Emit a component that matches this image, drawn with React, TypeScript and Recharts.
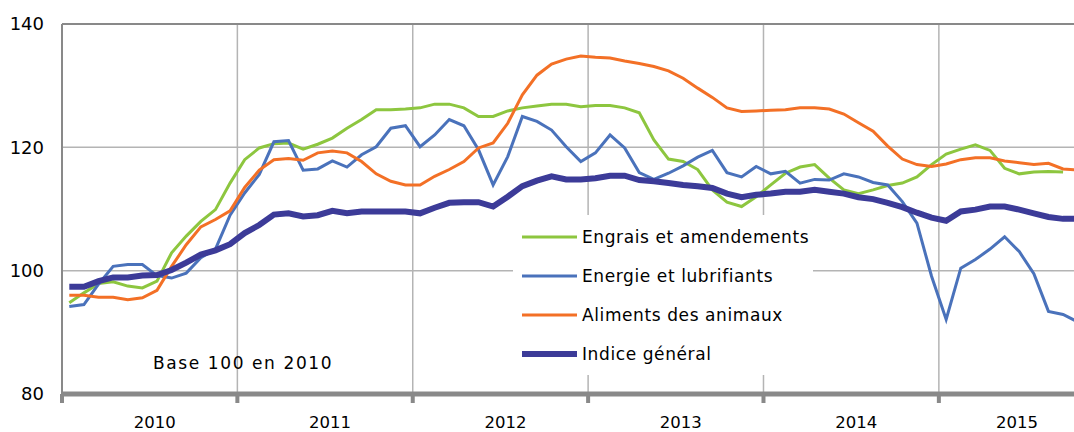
import React from 'react';
import {
  LineChart,
  Line,
  XAxis,
  YAxis,
  CartesianGrid,
  Legend,
  ReferenceLine,
} from 'recharts';

// Monthly indices, base 100 in 2010 (Jan 2010 - Oct 2015)
const YEARS = [2010, 2011, 2012, 2013, 2014, 2015];
const MONTHS_IN_YEAR = [12, 12, 12, 12, 12, 10];

const engrais = [
  94.8, 96.4, 97.9, 98.2, 97.5, 97.2, 98.3, 102.9, 105.6, 108.0, 109.9, 114.2,
  118.0, 119.9, 120.6, 120.7, 119.7, 120.5, 121.5, 123.1, 124.5, 126.1, 126.1, 126.2,
  126.4, 127.0, 127.0, 126.4, 125.0, 125.0, 125.9, 126.4, 126.7, 127.0, 127.0, 126.6,
  126.8, 126.8, 126.4, 125.6, 121.2, 118.1, 117.7, 116.4, 113.1, 111.1, 110.4, 112.0,
  113.9, 115.8, 116.8, 117.2, 115.0, 113.1, 112.5, 113.1, 113.8, 114.2, 115.2, 117.2,
  118.9, 119.7, 120.4, 119.5, 116.6, 115.7, 116.0, 116.1, 116.0, null,
];

const energie = [
  94.2, 94.5, 97.8, 100.7, 101.0, 101.0, 99.2, 98.8, 99.6, 102.1, 103.5, 109.0,
  112.6, 115.6, 120.9, 121.1, 116.3, 116.5, 117.8, 116.8, 118.8, 120.1, 123.1, 123.5,
  120.1, 122.0, 124.5, 123.5, 119.6, 113.9, 118.5, 125.0, 124.2, 122.8, 120.1, 117.7,
  119.1, 122.0, 119.9, 115.9, 114.8, 115.8, 117.0, 118.4, 119.5, 115.9, 115.2, 116.9,
  115.7, 116.1, 114.2, 114.8, 114.7, 115.7, 115.2, 114.3, 113.9, 111.2, 107.7, 99.1,
  92.1, 100.4, 101.8, 103.5, 105.5, 103.1, 99.5, 93.4, 92.9, 91.7,
];

const aliments = [
  96.0, 96.0, 95.7, 95.7, 95.3, 95.6, 96.8, 100.7, 104.2, 107.1, 108.3, 109.7,
  113.5, 116.3, 118.0, 118.2, 117.9, 119.1, 119.4, 119.1, 117.7, 115.7, 114.5, 113.9,
  113.9, 115.3, 116.4, 117.7, 119.9, 120.7, 123.9, 128.5, 131.7, 133.5, 134.3, 134.8,
  134.6, 134.5, 134.0, 133.6, 133.1, 132.4, 131.2, 129.6, 128.1, 126.4, 125.8, 125.9,
  126.0, 126.1, 126.4, 126.4, 126.2, 125.4, 124.0, 122.6, 120.2, 118.1, 117.2, 116.9,
  117.3, 118.0, 118.3, 118.3, 117.8, 117.5, 117.2, 117.4, 116.5, 116.3,
];

const indice = [
  97.4, 97.4, 98.3, 98.9, 98.9, 99.2, 99.3, 100.1, 101.3, 102.6, 103.3, 104.3,
  106.1, 107.4, 109.1, 109.3, 108.8, 109.0, 109.7, 109.3, 109.6, 109.6, 109.6, 109.6,
  109.3, 110.2, 111.0, 111.1, 111.1, 110.4, 112.0, 113.7, 114.6, 115.3, 114.8, 114.8,
  115.0, 115.4, 115.4, 114.7, 114.5, 114.2, 113.9, 113.7, 113.4, 112.5, 111.9, 112.3,
  112.5, 112.8, 112.8, 113.1, 112.8, 112.5, 111.9, 111.6, 111.0, 110.3, 109.4, 108.6,
  108.1, 109.6, 109.9, 110.4, 110.4, 109.9, 109.3, 108.7, 108.4, 108.4,
];

const Y_TICKS = [80, 100, 120, 140];

const SERIES = [
  { key: 'engrais', name: 'Engrais et amendements', color: '#8dc63f', width: 3 },
  { key: 'energie', name: 'Energie et lubrifiants', color: '#4a72bb', width: 3 },
  { key: 'aliments', name: 'Aliments des animaux', color: '#f37026', width: 3 },
  { key: 'indice', name: 'Indice général', color: '#3c3b98', width: 6 },
];

const months: string[] = [];
YEARS.forEach((y, yi) => {
  for (let m = 1; m <= MONTHS_IN_YEAR[yi]; m++) {
    months.push(`${y}-${String(m).padStart(2, '0')}`);
  }
});

const data = months.map((month, i) => ({
  month,
  engrais: engrais[i],
  energie: energie[i],
  aliments: aliments[i],
  indice: indice[i],
}));

const yearStarts = YEARS.map((y) => `${y}-01`);

// layout
const CHART_W = 1100;
const CHART_H = 432;
const PLOT_LEFT = 62;
const PLOT_RIGHT_MARGIN = 15;
const PLOT_BOTTOM = 394;
const PLOT_W = CHART_W - PLOT_LEFT - PLOT_RIGHT_MARGIN;
const BAND = PLOT_W / months.length;
const FONT = "'DejaVu Sans', sans-serif";
const AXIS_GRAY = '#898989';

const YearTick = (props: any) => {
  const { x, payload } = props;
  const year = Number(String(payload.value).slice(0, 4));
  const n = MONTHS_IN_YEAR[YEARS.indexOf(year)];
  const start = x - BAND / 2;
  return (
    <g>
      <rect x={start - 2} y={PLOT_BOTTOM} width={4} height={9} fill={AXIS_GRAY} />
      <text
        x={start + (n * BAND) / 2 + 5}
        y={422}
        textAnchor="middle"
        dominantBaseline="central"
        fontFamily={FONT}
        fontSize={16.5}
        fill="#000"
      >
        {year}
      </text>
    </g>
  );
};

const LegendBox = () => (
  <svg width={300} height={160} style={{ display: 'block', background: '#fff' }}>
    {SERIES.map((s, i) => {
      const cy = 22 + i * 39;
      return (
        <g key={s.key}>
          <line x1={9} x2={64} y1={cy} y2={cy} stroke={s.color} strokeWidth={s.width} />
          <text
            x={69}
            y={cy}
            dominantBaseline="central"
            fontFamily={FONT}
            fontSize={17}
            letterSpacing={0.6}
            fill="#000"
          >
            {s.name}
          </text>
        </g>
      );
    })}
  </svg>
);

export default function App() {
  const verticalPoints = YEARS.slice(1).map((_, i) => PLOT_LEFT + (i + 1) * 12 * BAND);
  return (
    <div
      style={{
        position: 'absolute',
        left: 0,
        top: 0,
        width: 1074,
        height: 432,
        overflow: 'hidden',
        background: '#fff',
      }}
    >
      <LineChart
        width={CHART_W}
        height={CHART_H}
        data={data}
        margin={{ top: 24, right: PLOT_RIGHT_MARGIN, bottom: 0, left: 8 }}
      >
        <CartesianGrid stroke="#b4b4b4" strokeWidth={1.5} verticalPoints={verticalPoints} />
        <XAxis
          dataKey="month"
          scale="band"
          ticks={yearStarts}
          interval={0}
          height={38}
          tickLine={false}
          axisLine={{ stroke: AXIS_GRAY, strokeWidth: 5 }}
          tick={<YearTick />}
        />
        <YAxis
          width={54}
          domain={[80, 140]}
          ticks={Y_TICKS}
          tickLine={false}
          tickMargin={12}
          axisLine={{ stroke: AXIS_GRAY, strokeWidth: 2 }}
          tick={{ fill: '#000', fontSize: 18, fontFamily: FONT }}
        />
        <ReferenceLine y={140} stroke={AXIS_GRAY} strokeWidth={2} />
        {SERIES.map((s) => (
          <Line
            key={s.key}
            type="linear"
            dataKey={s.key}
            name={s.name}
            stroke={s.color}
            strokeWidth={s.width}
            dot={false}
            activeDot={false}
            isAnimationActive={false}
          />
        ))}
        <Legend
          layout="vertical"
          align="center"
          verticalAlign="middle"
          content={<LegendBox />}
          wrapperStyle={{ left: 513, top: 215, width: 300, height: 160 }}
        />
      </LineChart>
      <div
        style={{
          position: 'absolute',
          left: 153,
          top: 353,
          fontFamily: FONT,
          fontSize: 17,
          letterSpacing: 1.6,
          color: '#000',
          whiteSpace: 'nowrap',
        }}
      >
        Base 100 en 2010
      </div>
    </div>
  );
}
